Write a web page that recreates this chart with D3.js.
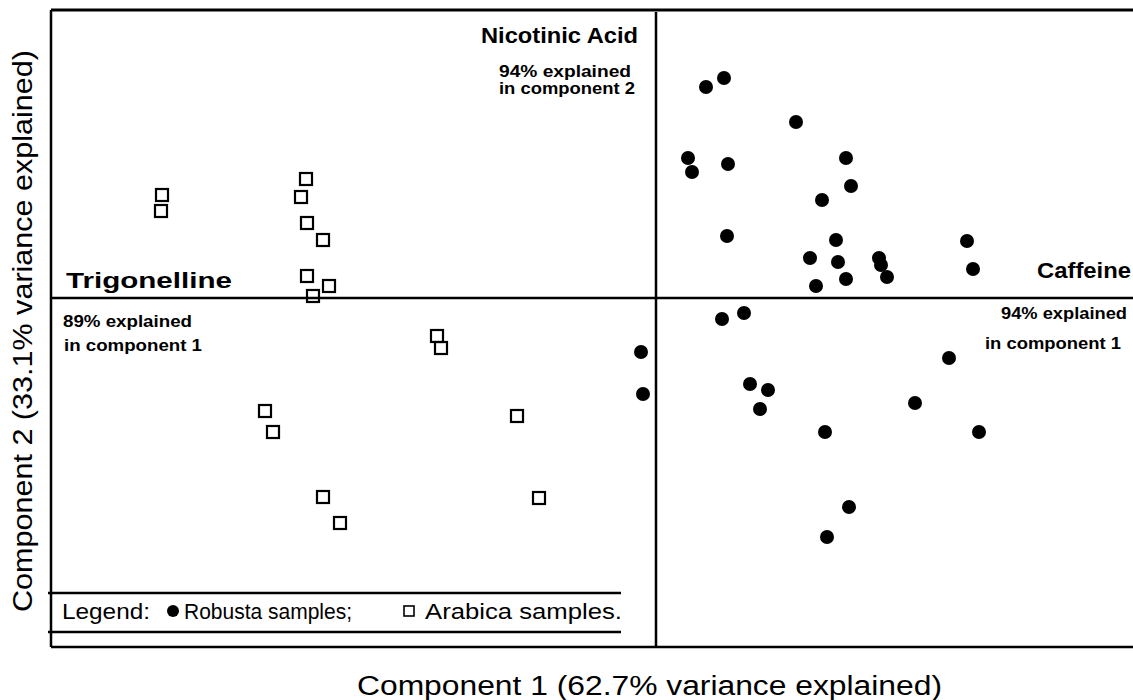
<!DOCTYPE html>
<html>
<head>
<meta charset="utf-8">
<script src="https://cdn.jsdelivr.net/npm/d3@7"></script>
<style>
  body { margin: 0; background: #fff; }
  text { font-family: "Liberation Sans", Arial, sans-serif; fill: #000; }
</style>
</head>
<body>
<svg id="chart" width="1133" height="700"></svg>
<script>
// PCA scores (component 1, component 2)
var robustaPC1 = [0.25, 0.34, 0.70, 0.16, 0.18, 0.36, 0.95, 0.975, 0.83, 0.355, 0.90, 1.555, 0.77, 0.91, 1.115, 1.125, 1.155, 1.585, 0.80, 0.95,
                  0.33, 0.44, -0.075, -0.065, 0.47, 0.56, 0.52, 1.465, 1.295, 0.845, 1.615, 0.965, 0.855];
var robustaPC2 = [1.055, 1.10, 0.88, 0.70, 0.63, 0.67, 0.70, 0.56, 0.49, 0.31, 0.29, 0.285, 0.20, 0.18, 0.20, 0.165, 0.105, 0.145, 0.06, 0.095,
                  -0.105, -0.075, -0.27, -0.48, -0.43, -0.46, -0.555, -0.30, -0.525, -0.67, -0.67, -1.045, -1.195];
var arabicaPC1 = [-2.47, -2.475, -1.75, -1.775, -1.745, -1.665, -1.745, -1.635, -1.715, -1.955, -1.915, -1.665, -1.58, -1.095, -1.075, -0.695, -0.585];
var arabicaPC2 = [0.515, 0.435, 0.595, 0.505, 0.375, 0.29, 0.11, 0.06, 0.01, -0.565, -0.67, -0.995, -1.125, -0.19, -0.25, -0.59, -1.00];

var xLabel = "Component 1 (62.7% variance explained)";
var yLabel = "Component 2 (33.1% variance explained)";

var robusta = robustaPC1.map((v, i) => ({x: v, y: robustaPC2[i]}));
var arabica = arabicaPC1.map((v, i) => ({x: v, y: arabicaPC2[i]}));

// note: "top" is taken by window.top, so use other names
var svg = d3.select("#chart"),
    fLeft = 51, fRight = 1133, fTop = 10, fBottom = 647;

var x = d3.scaleLinear().domain([-3.025, 2.385]).range([fLeft, fRight]);
var y = d3.scaleLinear().domain([-1.745, 1.44]).range([fBottom, fTop]);

var g = svg.append("g");

function hline(x1, x2, yy, w) {
  g.append("line").attr("x1", x1).attr("x2", x2).attr("y1", yy).attr("y2", yy)
    .attr("stroke", "#000").attr("stroke-width", w);
}
function vline(xx, y1, y2, w) {
  g.append("line").attr("x1", xx).attr("x2", xx).attr("y1", y1).attr("y2", y2)
    .attr("stroke", "#000").attr("stroke-width", w);
}

// frame (open on the right)
hline(fLeft, fRight, fTop, 3);
vline(fLeft, fTop, fBottom, 2.5);
hline(fLeft, fRight, fBottom, 2.5);

// zero lines
hline(fLeft, fRight, y(0), 2.5);
vline(x(0), fTop + 2, fBottom, 2.5);

// legend box lines
hline(48, 621, 593, 2.5);
hline(48, 621, 632, 2.5);

// points
g.append("g").selectAll("circle")
  .data(robusta)
  .enter().append("circle")
    .attr("cx", d => x(d.x))
    .attr("cy", d => y(d.y))
    .attr("r", 7)
    .attr("fill", "#000");

var s = 12;
g.append("g").selectAll("rect")
  .data(arabica)
  .enter().append("rect")
    .attr("x", d => x(d.x) - s / 2)
    .attr("y", d => y(d.y) - s / 2)
    .attr("width", s)
    .attr("height", s)
    .attr("fill", "none")
    .attr("stroke", "#000")
    .attr("stroke-width", 2.2);

// text helper, width forced to what the reference shows
function label(txt, px, py, size, len, bold, anchor) {
  return svg.append("text").attr("x", px).attr("y", py)
    .attr("font-size", size).attr("font-weight", bold ? "bold" : "normal")
    .attr("text-anchor", anchor || "start")
    .attr("textLength", len).attr("lengthAdjust", "spacingAndGlyphs")
    .text(txt);
}

// loading annotations
label("Nicotinic Acid", 481, 43, 22, 157, true);
label("94%  explained", 499, 77, 17, 132, true);
label("in component 2", 499, 94, 17, 136, true);
label("Trigonelline", 66, 288, 22, 166, true);
label("89% explained", 63, 327, 17, 129, true);
label("in component 1", 64, 351, 17, 138, true);
label("Caffeine", 1037, 278, 22, 94, true);
label("94% explained", 1001, 319, 17, 126, true);
label("in component 1", 985, 349, 17, 136, true);

// legend
label("Legend:", 62, 619, 22, 88, false);
svg.append("circle").attr("cx", 173).attr("cy", 611).attr("r", 6).attr("fill", "#000");
label("Robusta samples;", 184, 619, 22, 168, false);
svg.append("rect").attr("x", 404).attr("y", 606).attr("width", 10).attr("height", 10)
  .attr("fill", "none").attr("stroke", "#000").attr("stroke-width", 1.6);
label("Arabica samples.", 425, 619, 22, 197, false);

// axis titles
label(xLabel, 357, 695, 27, 585, false);
svg.append("text").attr("transform", "translate(32,612) rotate(-90)")
  .attr("font-size", 27).attr("textLength", 562).attr("lengthAdjust", "spacingAndGlyphs")
  .text(yLabel);
</script>
</body>
</html>
